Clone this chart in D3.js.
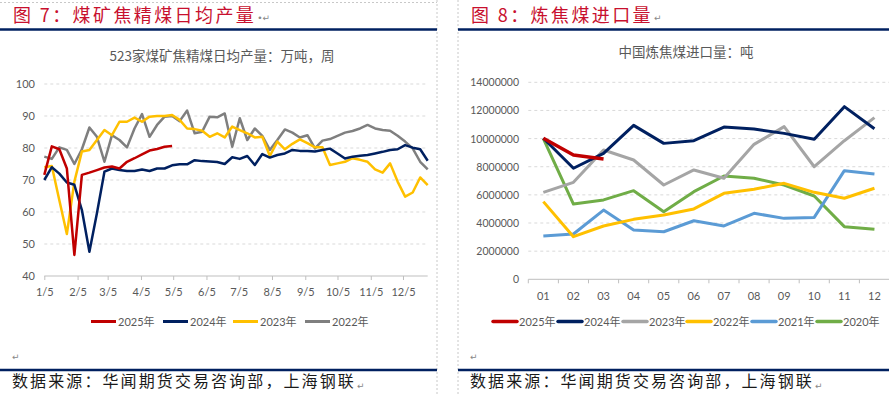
<!DOCTYPE html>
<html>
<head>
<meta charset="utf-8">
<script src="https://cdn.jsdelivr.net/npm/d3@7/dist/d3.min.js"></script>
<style>
body { margin: 0; background: #fff; }
svg { display: block; }
text { font-family: Lato, "Noto Sans CJK SC", sans-serif; }
.cjk { font-family: "Noto Sans CJK SC", sans-serif; }
</style>
</head>
<body>
<div id="chart"></div>
<script>
////////////////////////////////////////////////////////////
//////////////////////// Data //////////////////////////////
////////////////////////////////////////////////////////////

//Figure 7 - weekly daily-average output (10k t), week 0 = 1/5
var weekStart = new Date(2023, 0, 5);
var prod2025 = [71.6, 80.5, 79.6, 73.6, 46.6, 71.6, 72.3, 73.1, 73.9, 74.2, 73.6, 75.7, 76.8, 78.0, 79.2, 79.7, 80.4, 80.6];
var prod2024 = [70.0, 74.0, 72.0, 69.2, 68.5, 60.6, 47.6, 59.6, 72.6, 73.6, 73.1, 72.8, 72.8, 73.3, 72.8, 73.6,
	73.6, 74.6, 74.9, 74.9, 76.2, 75.9, 75.8, 75.6, 75.0, 77.1, 76.6, 77.5, 74.7, 78.1, 77.0, 77.8,
	78.3, 79.4, 79.1, 79.1, 78.9, 79.4, 79.8, 78.3, 76.7, 77.3, 77.6, 77.8, 78.3, 78.8, 79.4, 79.6,
	80.9, 80.1, 79.6, 76.0];
var prod2023 = [74.0, 74.4, 63.7, 53.1, 69.5, 78.9, 79.4, 82.5, 85.6, 84.0, 88.2, 88.2, 89.5, 88.2, 89.8, 90.0,
	90.0, 90.3, 88.8, 86.1, 85.9, 85.4, 83.5, 84.6, 83.3, 86.7, 85.6, 84.6, 83.3, 83.5, 77.5, 82.0,
	79.6, 81.3, 82.7, 81.5, 80.2, 80.2, 74.7, 75.2, 75.7, 76.8, 76.3, 75.7, 73.3, 72.3, 75.2, 69.5,
	64.8, 66.1, 70.8, 68.4];
var prod2022 = [77.3, 76.6, 80.2, 79.4, 75.0, 79.6, 86.4, 83.5, 75.7, 84.0, 82.5, 80.2, 86.1, 90.6, 83.5, 87.2,
	89.8, 90.0, 88.4, 91.7, 84.6, 85.1, 89.8, 89.6, 90.8, 80.4, 89.3, 82.5, 86.1, 83.8, 79.4, 82.5,
	85.8, 84.8, 83.3, 84.0, 79.9, 82.3, 82.8, 83.8, 84.8, 85.3, 86.1, 87.2, 86.1, 85.6, 85.4, 83.8,
	82.0, 79.9, 75.7, 73.3];
var prodMonthLabels = ["1/5","2/5","3/5","4/5","5/5","6/5","7/5","8/5","9/5","10/5","11/5","12/5"];
var prodYTicks = [40, 50, 60, 70, 80, 90, 100];

//Figure 8 - monthly coking coal imports (t)
var importMonths = ["01","02","03","04","05","06","07","08","09","10","11","12"];
var imp2025 = [10020000, 8830000, 8550000];
var imp2024 = [10020000, 7890000, 8950000, 10940000, 9660000, 9850000, 10820000, 10680000, 10370000, 9950000, 12270000, 10700000];
var imp2023 = [6180000, 6890000, 9190000, 8480000, 6700000, 7770000, 7180000, 9590000, 10850000, 8000000, 9850000, 11490000];
var imp2022 = [5520000, 3030000, 3790000, 4260000, 4570000, 5000000, 6110000, 6400000, 6820000, 6180000, 5760000, 6470000];
var imp2021 = [3080000, 3220000, 4920000, 3500000, 3380000, 4160000, 3790000, 4690000, 4330000, 4400000, 7720000, 7480000];
var imp2020 = [10000000, 5350000, 5640000, 6300000, 4800000, 6230000, 7340000, 7180000, 6700000, 5920000, 3740000, 3550000];
var importYTicks = [0, 2000000, 4000000, 6000000, 8000000, 10000000, 12000000, 14000000];

////////////////////////////////////////////////////////////
//////////////////////// Set-up ////////////////////////////
////////////////////////////////////////////////////////////

var width = 889, height = 394;
var navy = "#002060", labelColor = "#595959", gridColor = "#d9d9d9";

var svg = d3.select("#chart").append("svg")
	.attr("width", width)
	.attr("height", height);

svg.append("rect").attr("width", width).attr("height", height).style("fill", "#fff");

//Panel frames (Word table look)
svg.append("line").attr("x1", 0).attr("x2", 437).attr("y1", 2.5).attr("y2", 2.5)
	.style("stroke", "#c8c8c8").style("stroke-dasharray", "2,2");
[437, 458].forEach(function(x) {
	svg.append("line").attr("x1", x).attr("x2", x).attr("y1", 0).attr("y2", height)
		.style("stroke", "#c8c8c8").style("stroke-dasharray", "2,2");
});
[[0, 437], [458, 889]].forEach(function(p) {
	svg.append("line").attr("x1", p[0]).attr("x2", p[1]).attr("y1", 29.5).attr("y2", 29.5)
		.style("stroke", navy).style("stroke-width", 2.5);
	svg.append("line").attr("x1", p[0]).attr("x2", p[1]).attr("y1", 370).attr("y2", 370)
		.style("stroke", navy).style("stroke-width", 2.5);
});

//Small paragraph mark after a text node
function mark(t, str, y) {
	var b = t.node().getBBox();
	svg.append("text")
		.attr("x", b.x + b.width + 1).attr("y", y)
		.style("font-family", "DejaVu Sans").style("font-size", "9px").style("fill", "#888")
		.text(str);
}

//Figure headings
function heading(x, str, m) {
	var t = svg.append("text").attr("class", "cjk")
		.attr("x", x).attr("y", 22)
		.style("font-size", "18px")
		.style("letter-spacing", "2.4px")
		.style("fill", "#c8102e")
		.text(str);
	mark(t, m, 21);
}
heading(13, "图 7：煤矿焦精煤日均产量", "•↵");
heading(471, "图 8：炼焦煤进口量", "↵");

//Source lines
[[12, 360], [470, 360]].forEach(function(p) {
	svg.append("text").attr("x", p[0]).attr("y", p[1])
		.style("font-family", "DejaVu Sans").style("font-size", "9px").style("fill", "#888")
		.text("↵");
	var t = svg.append("text").attr("class", "cjk")
		.attr("x", p[0]).attr("y", 387)
		.style("font-size", "16px")
		.style("letter-spacing", "2.1px")
		.style("fill", "#1a1a1a")
		.text("数据来源：华闻期货交易咨询部，上海钢联");
	mark(t, "↵", 389);
});

////////////////////////////////////////////////////////////
///////////////////// Figure 7 /////////////////////////////
////////////////////////////////////////////////////////////

var x7 = d3.scaleTime()
	.domain([weekStart, new Date(2023, 11, 28)])
	.range([44.3, 427.7]);
var y7 = d3.scaleLinear()
	.domain([40, 100])
	.range([276, 84]);

var g7 = svg.append("g");

g7.append("text").attr("class", "cjk")
	.attr("x", 222).attr("y", 61)
	.style("text-anchor", "middle")
	.style("font-size", "13.5px")
	.style("fill", labelColor)
	.text("523家煤矿焦精煤日均产量：万吨，周");

//Gridlines
g7.selectAll(".grid").data(prodYTicks.slice(1)).enter().append("line")
	.attr("x1", x7.range()[0]).attr("x2", x7.range()[1])
	.attr("y1", function(d) { return y7(d); }).attr("y2", function(d) { return y7(d); })
	.style("stroke", gridColor).style("stroke-dasharray", "3,3");

//Y labels
g7.selectAll(".ylab").data(prodYTicks).enter().append("text")
	.attr("x", 35).attr("y", function(d) { return y7(d) + 4; })
	.style("text-anchor", "end").style("font-size", "11px").style("fill", labelColor)
	.text(function(d) { return d; });

//X axis
var monthDates = prodMonthLabels.map(function(d, i) { return new Date(2023, i, 5); });
var xAxis7 = d3.axisBottom(x7)
	.tickValues(monthDates)
	.tickSize(4)
	.tickPadding(8)
	.tickFormat(function(d, i) { return prodMonthLabels[i]; });
var ax7 = g7.append("g")
	.attr("transform", "translate(0," + y7(40) + ")")
	.call(xAxis7);
ax7.select(".domain").attr("d", "M" + x7.range()[0] + ",0H" + x7.range()[1]).style("stroke", "#bfbfbf");
ax7.selectAll(".tick line").style("stroke", "#bfbfbf");
ax7.selectAll(".tick text").style("font-size", "11px").style("fill", labelColor).style("font-family", "Lato");

var line7 = d3.line()
	.x(function(d, i) { return x7(d3.timeDay.offset(weekStart, 7 * i)); })
	.y(function(d) { return y7(d); });

var series7 = [
	{name: "2025年", values: prod2025, color: "#c00000"},
	{name: "2024年", values: prod2024, color: navy},
	{name: "2023年", values: prod2023, color: "#ffc000"},
	{name: "2022年", values: prod2022, color: "#7f7f7f"}
];

//Draw 2022 first so 2025 lies on top
series7.slice().reverse().forEach(function(s) {
	g7.append("path")
		.attr("d", line7(s.values))
		.style("fill", "none")
		.style("stroke", s.color)
		.style("stroke-width", 2.5)
		.style("stroke-linejoin", "round");
});

//Legend
var legendX7 = [91, 163, 233, 305];
series7.forEach(function(s, i) {
	g7.append("line")
		.attr("x1", legendX7[i]).attr("x2", legendX7[i] + 25)
		.attr("y1", 321.5).attr("y2", 321.5)
		.style("stroke", s.color).style("stroke-width", 3);
	g7.append("text")
		.attr("x", legendX7[i] + 27).attr("y", 325.5)
		.style("font-size", "11px").style("fill", labelColor)
		.text(s.name);
});

////////////////////////////////////////////////////////////
///////////////////// Figure 8 /////////////////////////////
////////////////////////////////////////////////////////////

var x8 = d3.scaleBand()
	.domain(importMonths)
	.range([528.3, 889.5]);
var y8 = d3.scaleLinear()
	.domain([0, 14000000])
	.range([279.3, 82.3]);
var cx8 = function(d) { return x8(d) + x8.bandwidth() / 2; };

var g8 = svg.append("g");

g8.append("text").attr("class", "cjk")
	.attr("x", 686).attr("y", 57)
	.style("text-anchor", "middle")
	.style("font-size", "13.5px")
	.style("fill", labelColor)
	.text("中国炼焦煤进口量：吨");

g8.selectAll(".grid").data(importYTicks.slice(1)).enter().append("line")
	.attr("x1", x8.range()[0]).attr("x2", x8.range()[1])
	.attr("y1", function(d) { return y8(d); }).attr("y2", function(d) { return y8(d); })
	.style("stroke", gridColor).style("stroke-dasharray", "3,3");

g8.selectAll(".ylab").data(importYTicks).enter().append("text")
	.attr("x", 519).attr("y", function(d) { return y8(d) + 4; })
	.style("text-anchor", "end").style("font-size", "10.5px").style("fill", labelColor)
	.text(function(d) { return d; });

//Category axis, ticks between categories
g8.append("line")
	.attr("x1", x8.range()[0]).attr("x2", x8.range()[1])
	.attr("y1", y8(0)).attr("y2", y8(0))
	.style("stroke", "#bfbfbf");
g8.selectAll(".tk").data(importMonths).enter().append("line")
	.attr("x1", function(d) { return x8(d); }).attr("x2", function(d) { return x8(d); })
	.attr("y1", y8(0)).attr("y2", y8(0) + 4)
	.style("stroke", "#bfbfbf");
g8.selectAll(".xlab").data(importMonths).enter().append("text")
	.attr("x", cx8).attr("y", 300)
	.style("text-anchor", "middle").style("font-size", "11px").style("fill", labelColor)
	.text(function(d) { return d; });

var line8 = d3.line()
	.x(function(d, i) { return cx8(importMonths[i]); })
	.y(function(d) { return y8(d); });

var series8 = [
	{name: "2025年", values: imp2025, color: "#c00000", w: 3.5},
	{name: "2024年", values: imp2024, color: navy, w: 3},
	{name: "2023年", values: imp2023, color: "#a5a5a5", w: 3},
	{name: "2022年", values: imp2022, color: "#ffc000", w: 3},
	{name: "2021年", values: imp2021, color: "#5b9bd5", w: 3},
	{name: "2020年", values: imp2020, color: "#70ad47", w: 3}
];

series8.slice().reverse().forEach(function(s) {
	g8.append("path")
		.attr("d", line8(s.values))
		.style("fill", "none")
		.style("stroke", s.color)
		.style("stroke-width", s.w)
		.style("stroke-linejoin", "round");
});

var legendX8 = [493, 558, 623, 687, 752, 817];
series8.forEach(function(s, i) {
	g8.append("line")
		.attr("x1", legendX8[i]).attr("x2", legendX8[i] + 24)
		.attr("y1", 321.5).attr("y2", 321.5)
		.style("stroke", s.color).style("stroke-width", 3.5)
		.style("stroke-linecap", "round");
	g8.append("text")
		.attr("x", legendX8[i] + 26).attr("y", 325.5)
		.style("font-size", "11px").style("fill", labelColor)
		.text(s.name);
});
</script>
</body>
</html>
